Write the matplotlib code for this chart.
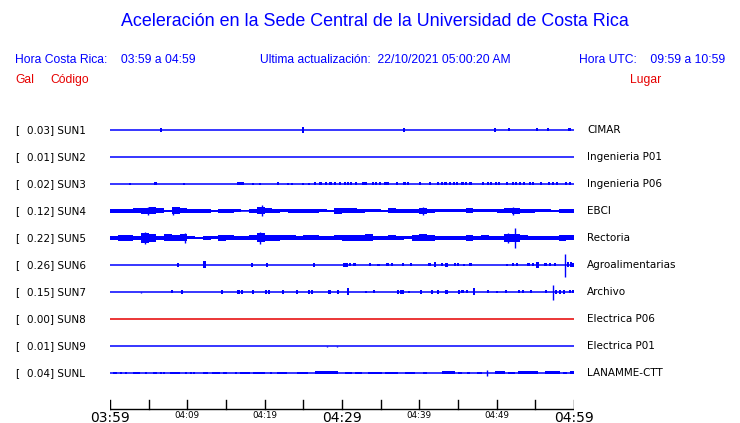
import matplotlib
matplotlib.use("Agg")
import matplotlib.pyplot as plt
import numpy as np

# ---------------- data ----------------
codes = ["SUN1", "SUN2", "SUN3", "SUN4", "SUN5", "SUN6", "SUN7", "SUN8", "SUN9", "SUNL"]
gal = [0.03, 0.01, 0.02, 0.12, 0.22, 0.26, 0.15, 0.00, 0.01, 0.04]
places = ["CIMAR", "Ingenieria P01", "Ingenieria P06", "EBCI", "Rectoria",
          "Agroalimentarias", "Archivo", "Electrica P06", "Electrica P01", "LANAMME-CTT"]
tick_labels = ["03:59", "04:09", "04:19", "04:29", "04:39", "04:49", "04:59"]

# per-minute envelope (half amplitude, px) for the continuously noisy stations
sun4_env = [2, 2, 2, 2.5, 3, 3.5, 2.5, 1, 3.5, 2.5, 2, 2, 2, 0.8, 2, 2, 1.5, 0.5, 2, 3.5,
            2.5, 2, 1.5, 2, 2, 2, 2, 1.5, 1, 3, 2.5, 2.5, 2, 1.5, 1.5, 1, 2.5, 2, 2, 2,
            3, 2, 1.5, 1.5, 1.5, 1.5, 2.5, 1.5, 1.5, 1.5, 2, 2.5, 3, 2, 2, 1.5, 1.5, 1, 2, 2]
sun5_env = [2, 3, 3, 2, 5, 4, 2, 3.5, 3, 3.5, 1.5, 1, 2, 1.5, 3, 2.5, 2, 2, 2.5, 4.5,
            3, 3, 2.5, 2.5, 2, 2.5, 2.5, 2, 2, 2.5, 3, 3, 3, 3.5, 2, 2, 2.5, 2, 1.5, 3,
            3.5, 3, 2, 2, 2, 2, 3, 2, 2.5, 2, 2, 4, 4, 2.5, 2, 2, 2, 2, 3, 2.5]

# spikes: (minute, up, down)
sun4_spikes = [(4.9, 4, 4), (8.2, 4, 4), (19.7, 5.5, 5.5), (40.5, 4, 4), (52.1, 4, 4)]
sun5_spikes = [(4.5, 6, 6), (9.7, 5, 5), (19.4, 6, 6), (51.5, 5, 5), (52.4, 10, 10)]
sun6_spikes = [(58.8, 11, 12)]
sun7_spikes = [(57.3, 7, 8), (4.0, 0, 1.5)]
sun9_spikes = [(28.1, 0, 1.5), (29.4, 0, 1.5)]

# short bursts: (minute, half amplitude)
sun1_events = [(6.6, 2), (25.0, 3), (38.0, 2), (49.8, 2), (51.6, 1.5), (55.2, 1.5),
               (56.6, 1.5), (59.4, 1.5)]
sun3_events = [(2.6, 0.8), (5.9, 1.5), (9.6, 0.8), (16.6, 1.5), (16.9, 1.5), (17.2, 1.5),
               (18.5, 1), (19.4, 1), (21.7, 1.5), (23.0, 1), (23.5, 1), (25.0, 1), (25.7, 1),
               (26.5, 1.5), (27.2, 1.5), (27.9, 1.5), (28.5, 1.5), (29.1, 1.5), (29.7, 1.5),
               (30.4, 1.5), (30.8, 1.5), (31.2, 1.5), (31.8, 1.5), (32.8, 1.5), (33.1, 1.5),
               (34.0, 1.5), (34.4, 1.5), (34.9, 1.5), (35.6, 1.5), (35.9, 1.5), (37.1, 1.5),
               (38.1, 1.5), (38.5, 1.5), (40.1, 1.5), (41.4, 1.5), (42.4, 1.5), (42.9, 1.5),
               (43.4, 1.5), (44.0, 1.5), (44.5, 1.5), (44.9, 1.5), (45.6, 1.5), (46.0, 1.5),
               (46.6, 1.5), (48.2, 1.5), (48.9, 1.5), (49.3, 1.5), (49.9, 1.5), (50.3, 1.5),
               (51.3, 1.5), (52.1, 1.5), (52.5, 1.5), (53.0, 1.5), (53.5, 1.5), (54.3, 1.5),
               (54.7, 1.5), (55.7, 1.5), (56.8, 1.5), (57.3, 1.5), (57.8, 1.5), (59.0, 1.5),
               (59.5, 1.5)]
sun6_events = [(8.8, 2), (12.2, 3.5), (18.4, 2), (20.3, 2), (26.4, 2), (30.3, 2), (30.6, 2),
               (31.0, 1.5), (31.6, 1.5), (33.6, 1.5), (34.7, 1), (35.9, 1.5), (36.5, 1.5),
               (37.9, 1.5), (38.9, 1.5), (41.3, 1.5), (42.0, 2.5), (42.9, 1.5), (43.5, 2),
               (44.6, 1.5), (45.0, 1.5), (45.8, 1), (46.6, 1.5), (51.3, 1), (52.1, 1.5),
               (52.6, 1.5), (54.1, 1.5), (54.7, 1.5), (55.3, 3), (56.3, 1.5), (56.9, 1.5),
               (57.5, 1.5), (59.2, 2.5), (59.6, 2.5), (59.9, 2)]
sun7_events = [(8.0, 1.5), (9.3, 2), (14.5, 2), (16.6, 2), (17.1, 2), (18.5, 2), (20.2, 2),
               (20.6, 2), (22.4, 2), (24.2, 2), (25.7, 2), (26.1, 2), (28.4, 2), (29.5, 2),
               (30.8, 3.5), (33.1, 1), (34.1, 1.5), (37.2, 2), (37.6, 2), (37.9, 2), (38.7, 1),
               (40.2, 2), (41.6, 2), (42.4, 2), (43.5, 2), (45.1, 2), (45.6, 1.5), (46.2, 1.5),
               (47.1, 3.5), (48.9, 1.5), (50.0, 1), (51.2, 1.5), (52.9, 1.5), (53.4, 1.5),
               (54.4, 1.5), (56.4, 1.5), (57.7, 2), (58.2, 2), (58.7, 2), (59.5, 1.5),
               (59.9, 1.5)]

# noise bursts: (start minute, end minute, half amplitude)
sunl_bursts = [(0.4, 0.9, 1.3), (1.3, 1.5, 1.3), (1.9, 2.1, 1.3), (3.0, 3.9, 1.3),
               (4.5, 4.7, 1.3), (5.6, 6.1, 1.3), (6.5, 6.7, 1.3), (6.9, 7.1, 1.3),
               (7.8, 9.1, 1.3), (9.7, 9.9, 1.3), (10.3, 10.5, 1.3), (10.7, 10.9, 1.3),
               (12.0, 12.7, 1.3), (13.2, 14.2, 1.3), (14.6, 15.1, 1.3), (16.2, 16.4, 1.3),
               (16.8, 18.1, 1.3), (18.5, 20.0, 1.3), (20.7, 20.9, 1.3), (21.6, 22.9, 1.3),
               (24.2, 25.6, 1.3), (26.5, 29.5, 1.5), (30.4, 31.3, 1.3), (31.7, 32.6, 1.3),
               (33.4, 35.2, 1.3), (35.6, 37.2, 1.3), (38.1, 39.4, 1.3), (40.5, 41.0, 1.3),
               (42.9, 44.6, 1.5), (45.0, 45.5, 1.3), (46.2, 46.6, 1.3), (47.5, 48.1, 1.3),
               (49.8, 51.1, 1.5), (51.5, 52.4, 1.3), (52.8, 55.3, 1.5), (56.3, 58.2, 1.5),
               (58.6, 59.1, 1.3), (59.5, 60.0, 1.5)]
sunl_spikes = [(48.8, 3, 3)]

# ---------------- figure ----------------
W, H = 740, 423
fig = plt.figure(figsize=(W / 100, H / 100), dpi=100)
ax = fig.add_axes([110 / W, 0, 464 / W, 1])
ax.set_xlim(0, 60)
ax.set_ylim(H, 0)
ax.axis("off")

BLUE = "#0000ff"
RED = "#e60000"
y0, dy = 130, 27
ys = [y0 + dy * i for i in range(len(codes))]
minutes = np.arange(60)


def draw_env(y, env):
    env = np.asarray(env, dtype=float)
    ax.bar(minutes, 2 * env, bottom=y - env, width=1.0, align="edge",
           color=BLUE, linewidth=0)


def draw_events(y, events, w=0.3):
    for t, a in events:
        ax.bar(t, 2 * a, bottom=y - a, width=w, color=BLUE, linewidth=0)


def draw_bursts(y, bursts):
    for s, e, a in bursts:
        ax.bar(s, 2 * a, bottom=y - a, width=max(e - s, 0.25), align="edge",
               color=BLUE, linewidth=0)


def draw_spikes(y, spikes):
    for t, up, dn in spikes:
        ax.vlines(t, y - up, y + dn, color=BLUE, lw=1.0)


for i, y in enumerate(ys):
    col = RED if codes[i] == "SUN8" else BLUE
    ax.plot([0, 60], [y, y], color=col, lw=1.1, solid_capstyle="butt")

draw_events(ys[0], sun1_events)
draw_events(ys[2], sun3_events)
draw_env(ys[3], sun4_env)
draw_spikes(ys[3], sun4_spikes)
draw_env(ys[4], sun5_env)
draw_spikes(ys[4], sun5_spikes)
draw_events(ys[5], sun6_events)
draw_spikes(ys[5], sun6_spikes)
draw_events(ys[6], sun7_events)
draw_spikes(ys[6], sun7_spikes)
draw_spikes(ys[8], sun9_spikes)
draw_bursts(ys[9], sunl_bursts)
draw_spikes(ys[9], sunl_spikes)

# time axis
axis_y = 409
ax.plot([0, 60], [axis_y, axis_y], color="black", lw=1.0)
for m in range(0, 61, 5):
    ax.plot([m, m], [axis_y - 9, axis_y], color="black", lw=1.0)
for k, lab in enumerate(tick_labels):
    big = k in (0, 3, 6)
    ax.text(k * 10, 418 if big else 416, lab, ha="center", va="center",
            fontsize=10 if big else 6.3, family="DejaVu Sans", color="black")


def fx(px):
    return px / W


def fy(py):
    return 1 - py / H


SANS = "Liberation Sans"
HS = 8.7
fig.text(fx(375), fy(22), "Aceleración en la Sede Central de la Universidad de Costa Rica",
         ha="center", va="center", color=BLUE, fontsize=12.9, family=SANS)
fig.text(fx(15), fy(60), "Hora Costa Rica:    03:59 a 04:59", ha="left", va="center",
         color=BLUE, fontsize=HS, family=SANS)
fig.text(fx(260), fy(60), "Ultima actualización:  22/10/2021 05:00:20 AM", ha="left",
         va="center", color=BLUE, fontsize=HS, family=SANS)
fig.text(fx(725), fy(60), "Hora UTC:    09:59 a 10:59", ha="right", va="center",
         color=BLUE, fontsize=HS, family=SANS)
fig.text(fx(15), fy(80), "Gal", ha="left", va="center", color=RED, fontsize=HS, family=SANS)
fig.text(fx(50), fy(80), "Código", ha="left", va="center", color=RED, fontsize=HS, family=SANS)
fig.text(fx(630), fy(80), "Lugar", ha="left", va="center", color=RED, fontsize=HS, family=SANS)

LS = 7.5
for i, y in enumerate(ys):
    fig.text(fx(15), fy(y), "[", ha="left", va="center", fontsize=LS, family="DejaVu Sans")
    fig.text(fx(27), fy(y), f"{gal[i]:.2f}] {codes[i]}", ha="left", va="center",
             fontsize=LS, family="DejaVu Sans")
    fig.text(fx(587), fy(y), places[i], ha="left", va="center", fontsize=LS,
             family="DejaVu Sans")

fig.savefig("out.png", dpi=100, facecolor="white")
